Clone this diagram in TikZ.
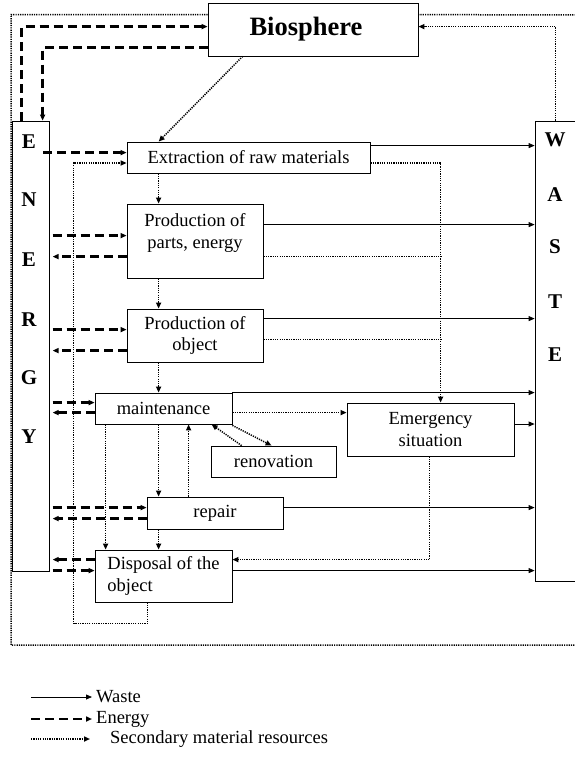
\documentclass[tikz,border=0pt]{standalone}
\usepackage{fontspec}
\setmainfont{Liberation Serif}
\usetikzlibrary{arrows.meta,calc}
\tikzset{
  box/.style={draw, line width=0.8pt, inner sep=0pt, align=center,
    font=\fontsize{18.5}{21.5}\selectfont},
  txt/.style={inner sep=0pt, align=center, font=\fontsize{18.5}{21.5}\selectfont},
  ws/.style={line width=0.8pt},
  en/.style={line width=2.5pt, dash pattern=on 9pt off 5pt},
  sm/.style={line width=1.5pt, dash pattern=on 1.2pt off 1.1pt},
  tip/.style={-{Triangle[length=6pt,width=5pt]}},
  letter/.style={font=\fontsize{21}{21}\selectfont\bfseries, inner sep=0pt},
  lbl/.style={font=\fontsize{18.5}{21.5}\selectfont, anchor=west, inner sep=0pt}
}
\begin{document}
\begin{tikzpicture}[x=1pt,y=-1pt]
\useasboundingbox (0,0) rectangle (575,768);
\fill[white] (0,0) rectangle (575,768);

% boxes
\node[box, minimum width=210, minimum height=53] (bio) at (313,29.5) {};
\node[inner sep=0pt, font=\fontsize{26.5}{26.5}\selectfont\bfseries] (biot) at (306,29.5) {Biosphere};
\node[box, minimum width=37, minimum height=450] (energy) at (30.5,346) {};
\node[box, minimum width=50, minimum height=460] (waste) at (560,351) {};
\node[box, minimum width=243, minimum height=31] (extr) at (248.5,157.5) {Extraction of raw materials};
\node[box, minimum width=136, minimum height=74] (parts) at (195,241) {};
\node[txt] (partst) at (195,233) {Production of\\parts, energy};
\node[box, minimum width=136, minimum height=53] (obj) at (195,335.5) {Production of\\object};
\node[box, minimum width=137, minimum height=31] (maint) at (163.5,408.5) {maintenance};
\node[box, minimum width=125, minimum height=31] (renov) at (273.5,461.5) {renovation};
\node[box, minimum width=167, minimum height=53] (emerg) at (430.5,429.5) {Emergency\\situation};
\node[box, minimum width=136, minimum height=32] (repair) at (215,513) {repair};
\node[box, minimum width=137, minimum height=52, align=left] (disp) at (163.5,576) {Disposal of the\\object};

% ENERGY / WASTE letters
\node[letter] (e1) at (29,142) {E};
\node[letter] (e2) at (29,200) {N};
\node[letter] (e3) at (29,260) {E};
\node[letter] (e4) at (29,320) {R};
\node[letter] (e5) at (29,378) {G};
\node[letter] (e6) at (29,437) {Y};
\node[letter] (w1l) at (555,140) {W};
\node[letter] (w2l) at (555,195) {A};
\node[letter] (w3l) at (555,247) {S};
\node[letter] (w4l) at (555,302) {T};
\node[letter] (w5l) at (555,355) {E};

% ---------- energy (dashed) ----------
\draw[en,tip] ($(energy.north west)+(10,0)$) |- ($(bio.north west)+(0,24)$);
\draw[en,tip] ($(bio.north west)+(0,45)$) -| ($(energy.north west)+(31,0)$);
\draw[en,tip] ($(energy.north east)+(-6,32)$) -- ($(extr.north west)+(0,11)$);
\draw[en,tip] ($(parts.north west)+(-74,32)$) -- ($(parts.north west)+(0,32)$);
\draw[en,tip] ($(parts.north west)+(0,53)$) -- ($(parts.north west)+(-74,53)$);
\draw[en,tip] ($(obj.north west)+(-74,21)$) -- ($(obj.north west)+(0,21)$);
\draw[en,tip] ($(obj.north west)+(0,42)$) -- ($(obj.north west)+(-74,42)$);
\draw[en,tip] ($(maint.north west)+(-42,10)$) -- ($(maint.north west)+(0,10)$);
\draw[en,tip] ($(maint.north west)+(0,20)$) -- ($(maint.north west)+(-42,20)$);
\draw[en,tip] ($(repair.north west)+(-94,11)$) -- ($(repair.north west)+(0,11)$);
\draw[en,tip] ($(repair.north west)+(0,22)$) -- ($(repair.north west)+(-94,22)$);
\draw[en,tip] ($(disp.north west)+(0,10)$) -- ($(disp.north west)+(-42,10)$);
\draw[en,tip] ($(disp.north west)+(-42,21)$) -- ($(disp.north west)+(0,21)$);

% ---------- waste (solid) ----------
\coordinate (w1) at ($(extr.north east)+(0,4)$);
\coordinate (w2) at ($(parts.north east)+(0,21)$);
\coordinate (w3) at ($(obj.north east)+(0,10)$);
\coordinate (w4) at (maint.north east);
\coordinate (w5) at ($(emerg.east)+(0,-5.5)$);
\coordinate (w6) at ($(repair.north east)+(0,11)$);
\coordinate (w7) at ($(disp.north east)+(0,21)$);
\foreach \c in {w1,w2,w3,w4,w5,w6,w7}
  \draw[ws,tip] (\c) -- (\c -| waste.west);

% ---------- secondary material resources (dotted) ----------
\coordinate (oc1) at (11,645);
\coordinate (oc2) at (578,15);
\draw[sm] ($(bio.north west)+(0,12)$) -| (oc1) -| (oc2) -- ($(bio.north east)+(0,12)$);
\draw[sm,tip] ($(bio.south west)+(35,0)$) -- ($(extr.north west)+(32,0)$);
\draw[sm,tip] ($(waste.north west)+(21,0)$) |- ($(bio.north east)+(0,24)$);

\coordinate (s1) at ($(extr.south west)+(32,0)$);
\coordinate (s2) at ($(parts.south west)+(32,0)$);
\coordinate (s3) at ($(obj.south west)+(32,0)$);
\draw[sm,tip] (s1) -- (s1 |- parts.north);
\draw[sm,tip] (s2) -- (s2 |- obj.north);
\draw[sm,tip] (s3) -- (s3 |- maint.north);

\coordinate (c1) at ($(emerg.north west)+(94,0)$);
\coordinate (p2) at ($(parts.north east)+(0,53)$);
\coordinate (p3) at ($(obj.north east)+(0,31)$);
\draw[sm,tip] ($(extr.east)+(0,5.5)$) -| (c1);
\draw[sm] (p2) -- (p2 -| c1);
\draw[sm] (p3) -- (p3 -| c1);

\coordinate (m1) at ($(maint.north east)+(0,20)$);
\draw[sm,tip] (m1) -- (m1 -| emerg.west);
\draw[sm,tip] ($(renov.north west)+(31,0)$) -- ($(maint.south west)+(117,0)$);
\draw[sm,tip] ($(maint.south east)+(0,1)$) -- ($(renov.north west)+(61,0)$);

\coordinate (m2) at ($(maint.south west)+(11,0)$);
\coordinate (m3) at ($(maint.south west)+(64,0)$);
\coordinate (r1) at ($(repair.north west)+(42,0)$);
\coordinate (r2) at ($(repair.south west)+(12,0)$);
\draw[sm,tip] (m2) -- (m2 |- disp.north);
\draw[sm,tip] (m3) -- (m3 |- repair.north);
\draw[sm,tip] (r1) -- (r1 |- maint.south);
\draw[sm,tip] (r2) -- (r2 |- disp.north);

\draw[sm,tip] ($(emerg.south west)+(83,0)$) |- ($(disp.north east)+(0,10)$);
\draw[sm,tip] ($(disp.south west)+(53,0)$) -- ++(0,21) -| ($(extr.west)+(-53,5.5)$) -- ($(extr.west)+(0,5.5)$);

% ---------- legend ----------
\coordinate (la1) at (31,697);  \coordinate (lb1) at (92,697);
\coordinate (la2) at (31,719);  \coordinate (lb2) at (92,719);
\coordinate (la3) at (31,739);  \coordinate (lb3) at (90,739);
\draw[ws,tip] (la1) -- (lb1);
\draw[en,tip] (la2) -- (lb2);
\draw[sm,tip] (la3) -- (lb3);
\node[lbl] (t1) at (96,697) {Waste};
\node[lbl] (t2) at (96,719) {Energy};
\node[lbl] (t3) at (110,739) {Secondary material resources};
\end{tikzpicture}
\end{document}
